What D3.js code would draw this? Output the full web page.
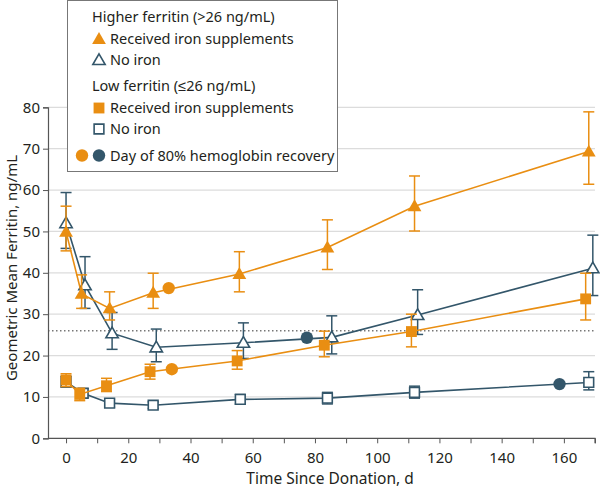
<!DOCTYPE html>
<html><head><meta charset="utf-8">
<script src="https://cdn.jsdelivr.net/npm/d3@7"></script>
<style>
body{margin:0;background:#fff}
svg{display:block}
text{font-family:"Noto Sans",sans-serif;fill:#231f20}
</style>
</head><body>
<svg id="chart" width="600" height="490"></svg>
<script>
// ---------- data ----------
const xTickValues = d3.range(0, 171, 10);
const xTickLabels = [0, 20, 40, 60, 80, 100, 120, 140, 160];
const yTickValues = [0, 10, 20, 30, 40, 50, 60, 70, 80];
const thresholdValue = 26;

const hiIronDays = [0, 5, 14, 28, 55.7, 84, 112, 168];
const hiIronMean = [49.9, 34.9, 31.4, 35.2, 39.7, 46.1, 56.1, 69.3];
const hiIronLow  = [45.3, 31.4, 28.6, 31.4, 35.4, 40.8, 50.1, 61.4];
const hiIronHigh = [56.1, 39.5, 35.4, 39.9, 45.1, 52.8, 63.4, 78.9];

const hiNoDays = [0, 6.1, 14.8, 29, 57, 85.4, 113, 169.3];
const hiNoMean = [52.0, 37.0, 25.4, 22.0, 23.1, 24.4, 29.8, 41.1];
const hiNoLow  = [45.9, 31.4, 21.5, 18.5, 19.3, 20.4, 25.1, 34.5];
const hiNoHigh = [59.4, 43.9, 30.4, 26.4, 27.9, 29.6, 35.9, 49.1];

const loIronDays = [0, 4.4, 13, 27, 55, 83, 111, 167];
const loIronMean = [14.1, 10.6, 12.7, 16.1, 18.7, 22.5, 25.8, 33.7];
const loIronLow  = [12.5, 9.1, 11.3, 14.3, 16.7, 19.7, 22.1, 28.6];
const loIronHigh = [15.6, 12.1, 14.5, 17.9, 21.2, 25.9, 30.0, 39.9];

const loNoDays = [0, 5.5, 14, 28, 56, 84, 112, 168];
const loNoMean = [13.6, 10.9, 8.5, 8.0, 9.4, 9.7, 11.1, 13.5];
const loNoLow  = [12.4, 9.9, 7.5, 7.2, 8.3, 8.3, 9.7, 11.7];
const loNoHigh = [15.0, 12.0, 9.4, 8.8, 10.6, 11.1, 12.6, 16.1];

const recoveryGroups = ["hiIron", "loIron", "hiNo", "loNo"];
const recoveryDays   = [33, 34, 77.4, 158.6];
const recoveryValues = [36.3, 16.7, 24.3, 13.1];

const legendLabels = ["Higher ferritin (>26 ng/mL)", "Received iron supplements", "No iron",
                      "Low ferritin (\u226426 ng/mL)", "Received iron supplements", "No iron",
                      "Day of 80% hemoglobin recovery"];

// ---------- styles ----------
const ORANGE = "#E98E12";
const DARK = "#33566A";

const svg = d3.select("#chart");
const x = d3.scaleLinear().domain([-5.8, 170]).range([48, 595]);
const y = d3.scaleLinear().domain([0, 80]).range([438.3, 107.3]);

// grid
svg.append("g").selectAll("line").data(yTickValues.filter(v => v > 0)).join("line")
  .attr("x1", x(-5.8)).attr("x2", x(170))
  .attr("y1", d => y(d)).attr("y2", d => y(d))
  .attr("stroke", "#dcdcdc").attr("stroke-width", 1.3);

// threshold dotted line
svg.append("line")
  .attr("x1", x(-5.8)).attr("x2", x(170))
  .attr("y1", y(thresholdValue)).attr("y2", y(thresholdValue))
  .attr("stroke", "#777").attr("stroke-width", 1.3).attr("stroke-dasharray", "1.5,2.5");

// axes
const yAxis = d3.axisLeft(y).tickValues(yTickValues).tickSize(5).tickPadding(3);
const gy = svg.append("g").attr("transform", `translate(${x(-5.8)},0)`).call(yAxis);
gy.select(".domain").attr("stroke", "#555").attr("stroke-width", 1.2);
gy.selectAll(".tick line").attr("stroke", "#555");
gy.selectAll("text").attr("font-size", 15).attr("font-family", '"Noto Sans",sans-serif').attr("fill", "#231f20");

const xAxis = d3.axisBottom(x).tickValues(xTickValues).tickSize(5).tickPadding(9)
  .tickFormat(d => xTickLabels.includes(d) ? d : "");
const gx = svg.append("g").attr("transform", `translate(0,${y(0)})`).call(xAxis);
gx.select(".domain").attr("stroke", "#555").attr("stroke-width", 1.2).attr("d", `M${x(-5.8)},0H${x(170)}V5`);
gx.selectAll(".tick line").attr("stroke", "#555");
gx.selectAll("text").attr("font-size", 15).attr("font-family", '"Noto Sans",sans-serif').attr("fill", "#231f20");

// axis titles
svg.append("text").attr("x", 330).attr("y", 484).attr("text-anchor", "middle")
  .attr("font-size", 15.5).text("Time Since Donation, d");
svg.append("text").attr("transform", "translate(17,268) rotate(-90)").attr("text-anchor", "middle")
  .attr("font-size", 15).text("Geometric Mean Ferritin, ng/mL");

// series
const series = [
  {key: "loNo",   days: loNoDays,   mean: loNoMean,   low: loNoLow,   high: loNoHigh,   color: DARK,   shape: "square",   filled: false},
  {key: "hiNo",   days: hiNoDays,   mean: hiNoMean,   low: hiNoLow,   high: hiNoHigh,   color: DARK,   shape: "triangle", filled: false},
  {key: "loIron", days: loIronDays, mean: loIronMean, low: loIronLow, high: loIronHigh, color: ORANGE, shape: "square",   filled: true},
  {key: "hiIron", days: hiIronDays, mean: hiIronMean, low: hiIronLow, high: hiIronHigh, color: ORANGE, shape: "triangle", filled: true},
];

const line = d3.line().x(d => x(d[0])).y(d => y(d[1]));

function markerPath(shape, filled) {
  if (shape === "triangle") return d3.symbol().type(d3.symbolTriangle).size(filled ? 82 : 66)();
  return d3.symbol().type(d3.symbolSquare).size(filled ? 118 : 95)();
}

series.forEach(s => {
  const pts = s.days.map((d, i) => [d, s.mean[i], s.low[i], s.high[i]]);
  const g = svg.append("g");
  g.append("path").attr("d", line(pts)).attr("fill", "none")
    .attr("stroke", s.color).attr("stroke-width", 1.6);
  const eb = g.append("g").attr("stroke", s.color).attr("stroke-width", 1.5);
  pts.forEach(p => {
    const cx = x(p[0]);
    eb.append("line").attr("x1", cx).attr("x2", cx).attr("y1", y(p[2])).attr("y2", y(p[3]));
    eb.append("line").attr("x1", cx - 5.5).attr("x2", cx + 5.5).attr("y1", y(p[2])).attr("y2", y(p[2]));
    eb.append("line").attr("x1", cx - 5.5).attr("x2", cx + 5.5).attr("y1", y(p[3])).attr("y2", y(p[3]));
  });
  s.g = g; s.pts = pts;
});

// recovery circles
recoveryGroups.forEach((k, i) => {
  const s = series.find(t => t.key === k);
  s.g.append("circle").attr("cx", x(recoveryDays[i])).attr("cy", y(recoveryValues[i])).attr("r", 6.2)
    .attr("fill", s.color);
});

series.forEach(s => {
  const dy = s.shape === "triangle" ? 1 : 0;
  s.g.selectAll(".m").data(s.pts).join("path")
    .attr("transform", p => `translate(${x(p[0])},${y(p[1]) + dy})`)
    .attr("d", markerPath(s.shape, s.filled))
    .attr("fill", s.filled ? s.color : "#fff")
    .attr("stroke", s.filled ? "none" : s.color)
    .attr("stroke-width", 1.6);
});

// legend
const lg = svg.append("g");
lg.append("rect").attr("x", 67.5).attr("y", 0.5).attr("width", 270).attr("height", 171)
  .attr("fill", "#fff").attr("stroke", "#777").attr("stroke-width", 1);
const lfs = 14.5;
const rows = [
  {text: legendLabels[0], tx: 92,  ty: 22},
  {text: legendLabels[1], tx: 110, ty: 44, shape: "triangle", filled: true,  color: ORANGE},
  {text: legendLabels[2], tx: 110, ty: 65, shape: "triangle", filled: false, color: DARK},
  {text: legendLabels[3], tx: 92,  ty: 91},
  {text: legendLabels[4], tx: 110, ty: 113, shape: "square", filled: true,  color: ORANGE},
  {text: legendLabels[5], tx: 110, ty: 134, shape: "square", filled: false, color: DARK},
  {text: legendLabels[6], tx: 110, ty: 161, circles: true},
];
rows.forEach(r => {
  lg.append("text").attr("x", r.tx).attr("y", r.ty).attr("font-size", lfs).text(r.text);
  if (r.shape) {
    lg.append("path").attr("transform", `translate(99,${r.ty - 5 + (r.shape === "triangle" ? 1 : 0)})`)
      .attr("d", markerPath(r.shape, r.filled))
      .attr("fill", r.filled ? r.color : "#fff")
      .attr("stroke", r.filled ? "none" : r.color).attr("stroke-width", 1.6);
  }
  if (r.circles) {
    lg.append("circle").attr("cx", 82).attr("cy", r.ty - 5.5).attr("r", 6.2).attr("fill", ORANGE);
    lg.append("circle").attr("cx", 99).attr("cy", r.ty - 5.5).attr("r", 6.2).attr("fill", DARK);
  }
});
</script>
</body></html>
